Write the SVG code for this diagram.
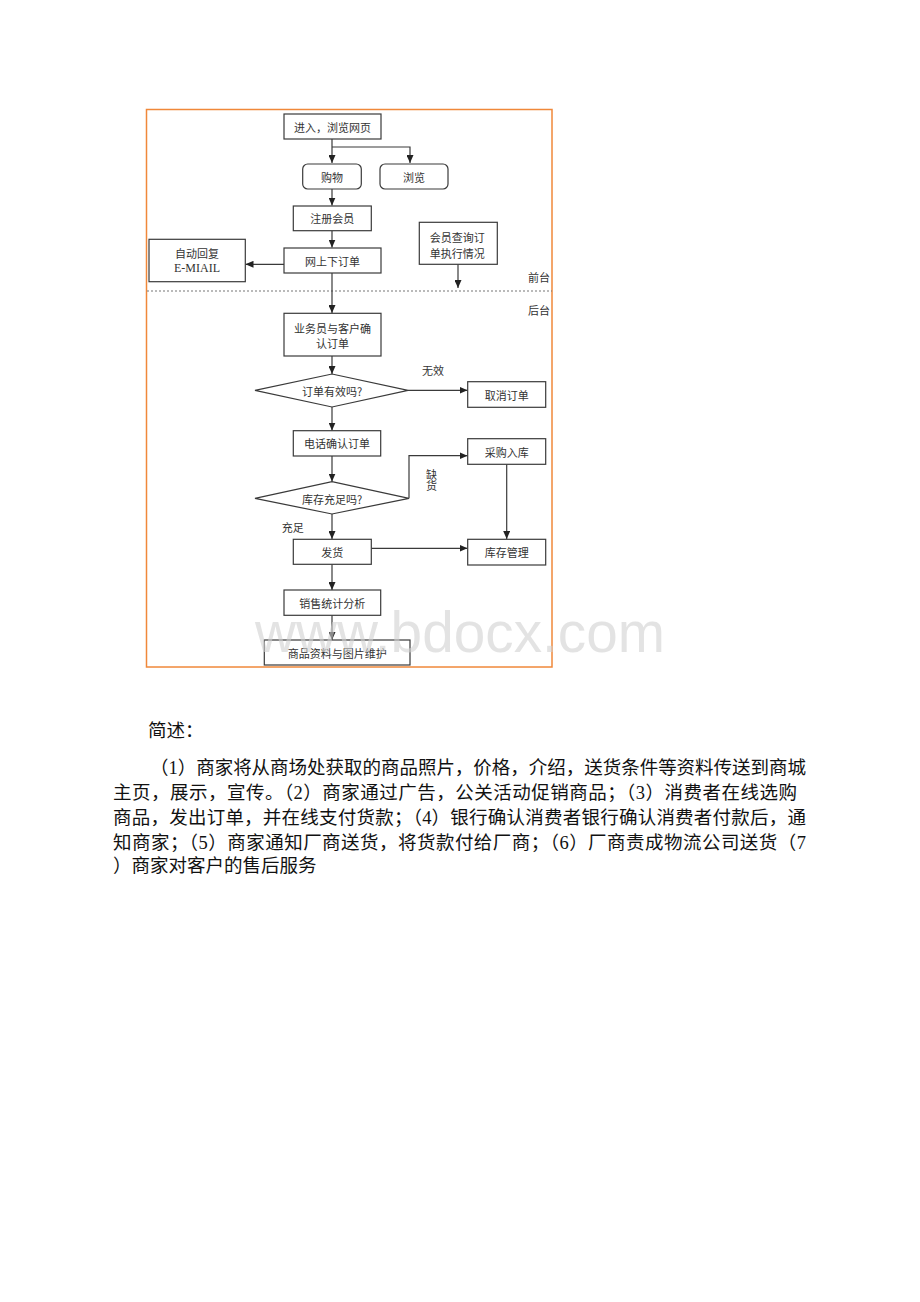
<svg xmlns="http://www.w3.org/2000/svg" width="920" height="1302" viewBox="0 0 920 1302">
<style>
.bx{fill:#fff;stroke:#3a3a3a;stroke-width:1.2}
.ln{fill:none;stroke:#3a3a3a;stroke-width:1.2}
.t{font-family:"Noto Sans CJK SC",sans-serif;font-size:11px;fill:#333;text-anchor:middle;dominant-baseline:central}
.p{font-family:"Liberation Serif","Noto Sans CJK SC",serif;font-size:18.5px;fill:#111}
</style>
<defs>
<marker id="ah" markerUnits="userSpaceOnUse" markerWidth="8" markerHeight="7" refX="8" refY="3.5" orient="auto">
<path d="M0,0 L8,3.5 L0,7 z" fill="#222"/>
</marker>
</defs>
<rect x="0" y="0" width="920" height="1302" fill="#fff"/>
<rect x="146.5" y="109.5" width="405.5" height="557.5" fill="none" stroke="#f0883a" stroke-width="1.5"/>
<line x1="147" y1="291" x2="552" y2="291" stroke="#777" stroke-width="1.2" stroke-dasharray="2 2"/>
<text class="t" x="539" y="277">前台</text>
<text class="t" x="539" y="310">后台</text>

<g id="connectors">
<path class="ln" d="M332,139 V163" marker-end="url(#ah)"/>
<path class="ln" d="M332,147 H410 V163" marker-end="url(#ah)"/>
<path class="ln" d="M332,189 V205.5" marker-end="url(#ah)"/>
<path class="ln" d="M332,231 V247.5" marker-end="url(#ah)"/>
<path class="ln" d="M284,264.3 H245.5" marker-end="url(#ah)"/>
<path class="ln" d="M458,264.3 V288" marker-end="url(#ah)"/>
<path class="ln" d="M332,273 V313" marker-end="url(#ah)"/>
<path class="ln" d="M332,356 V374" marker-end="url(#ah)"/>
<path class="ln" d="M408,390.3 H467.5" marker-end="url(#ah)"/>
<path class="ln" d="M332,407 V430.5" marker-end="url(#ah)"/>
<path class="ln" d="M332,456 V481.5" marker-end="url(#ah)"/>
<path class="ln" d="M409,498.3 V455.7 H467.5" marker-end="url(#ah)"/>
<path class="ln" d="M332,514 V539" marker-end="url(#ah)"/>
<path class="ln" d="M371.3,548.3 H467.5" marker-end="url(#ah)"/>
<path class="ln" d="M506.7,464.3 V539" marker-end="url(#ah)"/>
<path class="ln" d="M332,564.3 V590" marker-end="url(#ah)"/>
<path class="ln" d="M332,615.3 V640" marker-end="url(#ah)"/>
<text class="t" x="433" y="369.5">无效</text>
<text x="431.5" y="480" style="font-family:'Noto Sans CJK SC',sans-serif;font-size:11px;fill:#333;writing-mode:vertical-rl;text-anchor:middle">缺货</text>
<text class="t" x="292.7" y="526.7">充足</text>
</g>

<g id="n1"><rect class="bx" x="284" y="114" width="97" height="25"/><text class="t" x="332.5" y="126.5">进入，浏览网页</text></g>
<g id="n2"><rect class="bx" x="302.7" y="164" width="58.6" height="25" rx="5"/><text class="t" x="332" y="176.5">购物</text></g>
<g id="n3"><rect class="bx" x="380" y="164" width="68" height="25" rx="5"/><text class="t" x="414" y="176.5">浏览</text></g>
<g id="n4"><rect class="bx" x="293.3" y="206" width="78" height="24.7"/><text class="t" x="332.3" y="218.3">注册会员</text></g>
<g id="n5"><rect class="bx" x="284" y="248" width="97" height="25"/><text class="t" x="332.5" y="260.5">网上下订单</text></g>
<g id="n6"><rect class="bx" x="149" y="239.3" width="96.3" height="42.4"/><text class="t" x="197" y="252.7">自动回复</text><text class="t" x="197" y="268.3" style="font-family:'Liberation Serif',serif;font-size:12px">E-MIAIL</text></g>
<g id="n7"><rect class="bx" x="419.3" y="222.3" width="78" height="42"/><text class="t" x="457.3" y="236.7">会员查询订</text><text class="t" x="457.3" y="252.7">单执行情况</text></g>
<g id="n8"><rect class="bx" x="284" y="313.3" width="97" height="42.7"/><text class="t" x="332.5" y="328.3">业务员与客户确</text><text class="t" x="332.5" y="343.3">认订单</text></g>
<g id="n9"><polygon class="bx" points="255,390.3 332,374 408,390.3 332,407"/><text class="t" x="332" y="390.5">订单有效吗?</text></g>
<g id="n10"><rect class="bx" x="467.7" y="381.7" width="78" height="25.6"/><text class="t" x="506.7" y="394.5">取消订单</text></g>
<g id="n11"><rect class="bx" x="293.3" y="430.7" width="87.4" height="25.3"/><text class="t" x="337" y="443.3">电话确认订单</text></g>
<g id="n12"><rect class="bx" x="467.7" y="438.7" width="78" height="25.6"/><text class="t" x="506.7" y="451.5">采购入库</text></g>
<g id="n13"><polygon class="bx" points="255,498.3 332,481.7 409,498.3 332,514"/><text class="t" x="332" y="498.5">库存充足吗?</text></g>
<g id="n14"><rect class="bx" x="293.3" y="539.3" width="78" height="25"/><text class="t" x="332.3" y="551.8">发货</text></g>
<g id="n15"><rect class="bx" x="467.7" y="539.3" width="78" height="25.7"/><text class="t" x="506.7" y="552">库存管理</text></g>
<g id="n16"><rect class="bx" x="284" y="590" width="96.7" height="25.3"/><text class="t" x="332.3" y="602.7">销售统计分析</text></g>
<g id="n17"><rect class="bx" x="264.3" y="640" width="145.7" height="25"/><text class="t" x="337.2" y="652.5">商品资料与图片维护</text></g>

<text x="255" y="652" font-family="'Liberation Sans',Arial,sans-serif" font-size="57" fill="#d0d0d0" fill-opacity="0.6" textLength="410" lengthAdjust="spacingAndGlyphs">www.bdocx.com</text>

<g id="text">
<text class="p" x="148" y="737">简述：</text>
<text class="p" x="150" y="774" textLength="656" lengthAdjust="spacing">（1）商家将从商场处获取的商品照片，价格，介绍，送货条件等资料传送到商城</text>
<text class="p" x="113" y="799" textLength="684" lengthAdjust="spacing">主页，展示，宣传。（2）商家通过广告，公关活动促销商品；（3）消费者在线选购</text>
<text class="p" x="113" y="824" textLength="693" lengthAdjust="spacing">商品，发出订单，并在线支付货款；（4）银行确认消费者银行确认消费者付款后，通</text>
<text class="p" x="113" y="849" textLength="693" lengthAdjust="spacing">知商家；（5）商家通知厂商送货，将货款付给厂商；（6）厂商责成物流公司送货（7</text>
<text class="p" x="113" y="872">）商家对客户的售后服务</text>
</g>
</svg>
